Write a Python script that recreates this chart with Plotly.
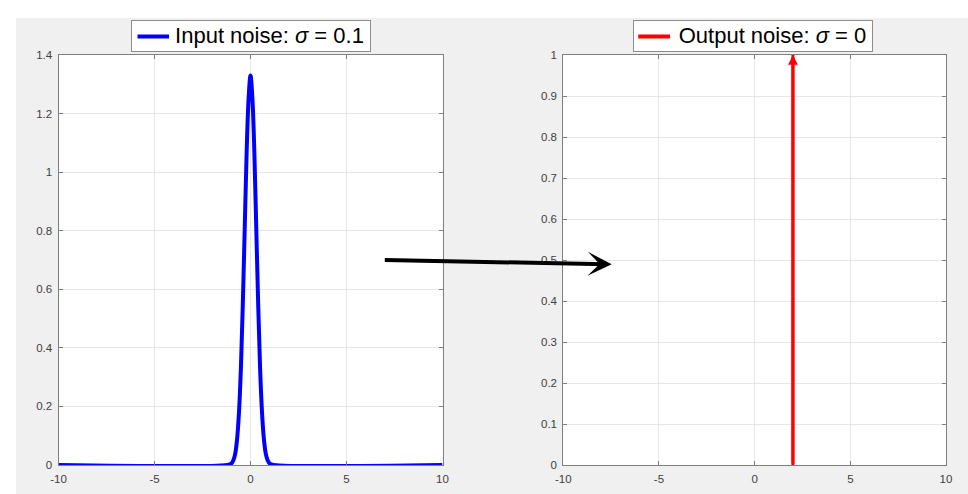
import plotly.graph_objects as go

# Input noise density (left panel), sampled along the curve
input_x = [-10, -1.2, -1.0, -0.9, -0.8, -0.7, -0.6, -0.5, -0.4, -0.3, -0.2, -0.1, 0.0,
           0.1, 0.2, 0.3, 0.4, 0.5, 0.6, 0.7, 0.8, 0.9, 1.0, 1.2, 10]
input_y = [0.0, 0.0005, 0.005, 0.015, 0.037, 0.087, 0.18, 0.33, 0.55, 0.81, 1.07, 1.25, 1.33,
           1.25, 1.07, 0.81, 0.55, 0.33, 0.18, 0.087, 0.037, 0.015, 0.005, 0.0005, 0.0]

# Output noise: a delta spike drawn as an arrow (right panel)
output_x = [2, 2]
output_y = [0, 1]

input_label = "Input noise: <i>σ</i> = 0.1"
output_label = "Output noise: <i>σ</i> = 0"

x_ticks = [-10, -5, 0, 5, 10]
x_tick_text = ["-10", "-5", "0", "5", "10"]
left_y_ticks = [0, 0.2, 0.4, 0.6, 0.8, 1.0, 1.2, 1.4]
left_y_text = ["0", "0.2", "0.4", "0.6", "0.8", "1", "1.2", "1.4"]
right_y_ticks = [0, 0.1, 0.2, 0.3, 0.4, 0.5, 0.6, 0.7, 0.8, 0.9, 1.0]
right_y_text = ["0", "0.1", "0.2", "0.3", "0.4", "0.5", "0.6", "0.7", "0.8", "0.9", "1"]

W, H = 968, 494
FONT = "Liberation Sans, Arial, Helvetica, sans-serif"
AXIS_GRAY = "#7f7f7f"
GRID = "#e6e6e6"
TICK_FONT = dict(family=FONT, size=11.5, color="#404040")
BLUE, RED = "#0000ff", "#ff0000"

fig = go.Figure()

fig.add_trace(go.Scatter(
    x=input_x, y=input_y, mode="lines", line=dict(color=BLUE, width=4, shape="spline"),
    name=input_label, xaxis="x", yaxis="y", showlegend=False, hoverinfo="skip",
))
fig.add_trace(go.Scatter(
    x=output_x, y=output_y, mode="lines", line=dict(color=RED, width=3),
    name=output_label, xaxis="x2", yaxis="y2", showlegend=False, hoverinfo="skip",
))

y_dom = [1 - 465 / H, 1 - 55 / H]
axis_common = dict(
    showline=True, linecolor=AXIS_GRAY, linewidth=1, mirror="ticks",
    ticks="inside", ticklen=4, tickcolor=AXIS_GRAY, tickwidth=1,
    showgrid=True, gridcolor=GRID, gridwidth=1, zeroline=False,
    tickfont=TICK_FONT, fixedrange=True, automargin=False, ticklabelstandoff=3,
)

fig.update_layout(
    width=W, height=H,
    margin=dict(l=0, r=0, t=0, b=0, autoexpand=False),
    paper_bgcolor="white", plot_bgcolor="white",
    showlegend=False,
    xaxis=dict(domain=[58.5 / W, 442.5 / W], range=[-10, 10], tickmode="array",
               tickvals=x_ticks, ticktext=x_tick_text, anchor="y", **axis_common),
    yaxis=dict(domain=y_dom, range=[0, 1.4], tickmode="array",
               tickvals=left_y_ticks, ticktext=left_y_text, anchor="x", **axis_common),
    xaxis2=dict(domain=[563.3 / W, 946 / W], range=[-10, 10], tickmode="array",
                tickvals=x_ticks, ticktext=x_tick_text, anchor="y2", **axis_common),
    yaxis2=dict(domain=y_dom, range=[0, 1], tickmode="array",
                tickvals=right_y_ticks, ticktext=right_y_text, anchor="x2", **axis_common),
)

# Figure window background and white axes faces
fig.add_shape(type="rect", xref="paper", yref="paper", x0=16 / W, x1=1, y0=0, y1=1 - 18 / H,
              fillcolor="#f0f0f0", line=dict(width=0), layer="below")
for xr, yr in (("x domain", "y domain"), ("x2 domain", "y2 domain")):
    fig.add_shape(type="rect", xref=xr, yref=yr, x0=0, x1=1, y0=0, y1=1,
                  fillcolor="white", line=dict(width=0), layer="below")

# Arrowhead on the output spike
fig.add_annotation(
    x=output_x[1], y=output_y[1], ax=output_x[0], ay=output_y[0],
    xref="x2", yref="y2", axref="x2", ayref="y2", text="",
    showarrow=True, arrowhead=2, arrowsize=0.65, arrowwidth=3, arrowcolor=RED,
)

# Mapping arrow from input to output panel
tip_px, tail_px = (611.7, 264.3), (383.3, 260.0)
fig.add_annotation(
    x=tip_px[0] / W, y=1 - tip_px[1] / H, xref="paper", yref="paper",
    ax=tail_px[0] - tip_px[0], ay=tail_px[1] - tip_px[1], text="",
    showarrow=True, arrowhead=3, arrowsize=1.0, arrowwidth=4, arrowcolor="black",
)

# Legend boxes above each panel: (box left, box right, swatch left, swatch right, label, colour)
legend_top, legend_bottom = 20.7, 52.3
legend_mid = (legend_top + legend_bottom) / 2
legend_boxes = [
    (131.3, 371.3, 136.0, 169.0, input_label, BLUE, 4),
    (632.3, 872.7, 636.7, 670.0, output_label, RED, 4),
]
for bx0, bx1, sx0, sx1, label, color, lw in legend_boxes:
    fig.add_annotation(
        x=(bx0 + bx1) / 2 / W, y=1 - legend_mid / H, xref="paper", yref="paper",
        xanchor="center", yanchor="middle", showarrow=False,
        text=label + "\u00a0", align="right", valign="middle",
        width=(bx1 - bx0) - 2, height=(legend_bottom - legend_top) - 2,
        bgcolor="white", bordercolor="#8c8c8c", borderwidth=1, borderpad=0,
        font=dict(family=FONT, size=22, color="black"),
    )
    fig.add_annotation(
        x=sx1 / W, y=1 - legend_mid / H, xref="paper", yref="paper",
        ax=sx0 - sx1, ay=0, text="", showarrow=True, arrowhead=0,
        arrowwidth=lw, arrowcolor=color,
    )

fig.write_html(
    "out.html",
    config=dict(displayModeBar=False),
    post_script="document.body.style.margin='0';",
)
